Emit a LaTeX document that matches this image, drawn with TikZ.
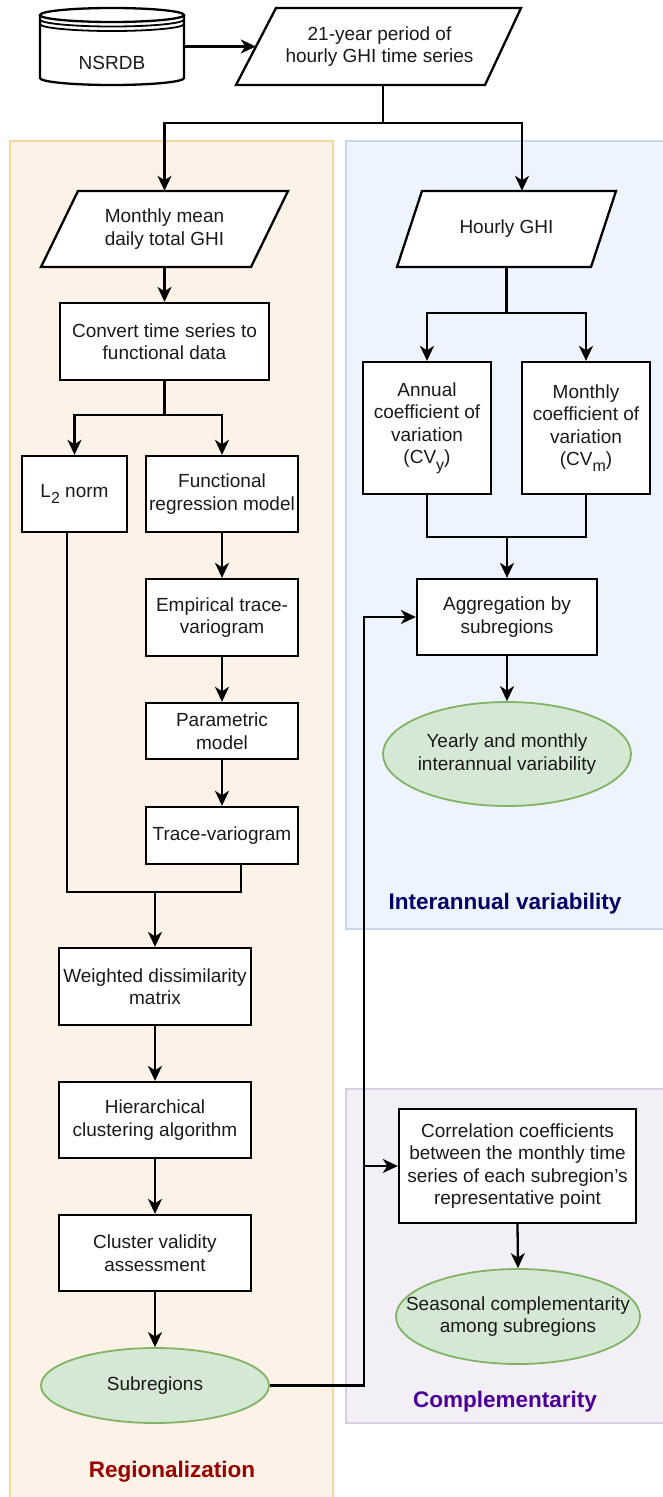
\documentclass[tikz,border=0pt]{standalone}
\usepackage{fontspec}
\setmainfont{Liberation Sans}
\usetikzlibrary{arrows.meta,shapes.geometric,calc}
\definecolor{regfill}{HTML}{FDF2E7}
\definecolor{regline}{HTML}{F3D79C}
\definecolor{ivfill}{HTML}{EEF4FD}
\definecolor{ivline}{HTML}{C8D7EE}
\definecolor{cfill}{HTML}{F3EFF7}
\definecolor{cline}{HTML}{D8CFE5}
\definecolor{termfill}{HTML}{D5E8D4}
\definecolor{termline}{HTML}{82B366}
\definecolor{regtext}{HTML}{990000}
\definecolor{ivtext}{HTML}{000066}
\definecolor{ctext}{HTML}{4C0099}
\definecolor{ink}{HTML}{1A1A1A}
\newcommand{\lowsub}[1]{\raisebox{-0.32em}{\fontsize{16}{16}\selectfont #1}}
\begin{document}
\begin{tikzpicture}[x=1pt,y=-1pt,
  txt/.style={align=center, inner sep=0pt, text=ink, font=\fontsize{19}{22.5}\selectfont},
  box/.style={txt, draw=black, line width=2.3pt, fill=white},
  paratext/.style={txt},
  parashape/.style={draw=black, line width=2.3pt, fill=white, line join=miter},
  term/.style={ellipse, draw=termline, fill=termfill, line width=1.8pt, inner sep=0pt},
  wire/.style={line width=2.3pt, draw=black},
  conn/.style={wire, -{Stealth[length=15pt,width=14pt,inset=4.5pt]}},
  panel/.style={line width=1.8pt},
  lbl/.style={inner sep=0pt, font=\fontsize{22.5}{26}\selectfont\bfseries}
]
\useasboundingbox (0,0) rectangle (662,1497);
\fill[white] (0,0) rectangle (662,1497);

% panels
\draw[panel, draw=regline, fill=regfill] (10,141) rectangle (333,1510);
\draw[panel, draw=ivline, fill=ivfill] (346,141) rectangle (672,929);
\draw[panel, draw=cline, fill=cfill] (346,1089) rectangle (672,1423);

\node[lbl, text=regtext] (lreg) at (172,1472) {Regionalization};
\node[lbl, text=ivtext] (liv) at (505,904) {Interannual variability};
\node[lbl, text=ctext] (lc) at (505,1402) {Complementarity};

% NSRDB data store
\begin{scope}[line width=2.3pt]
\draw[fill=white] (40,15) -- (40,78) arc[start angle=180, end angle=360, x radius=72pt, y radius=7pt] -- (184,15);
\draw[fill=white] (112,15) ellipse[x radius=72pt, y radius=7pt];
\draw[line width=1.8pt] (40,19.5) arc[start angle=180, end angle=360, x radius=72pt, y radius=7pt];
\draw[line width=1.8pt] (40,24) arc[start angle=180, end angle=360, x radius=72pt, y radius=7pt];
\end{scope}
\node[inner sep=0pt, minimum width=144pt, minimum height=77pt] (nsrdb) at (112,46.5) {};
\node[txt, anchor=base] (nsrdbt) at (112,69) {NSRDB};

% parallelogram shapes
\draw[parashape] (236,85) -- (276,8) -- (521,8) -- (485,85) -- cycle;
\draw[parashape] (41,267) -- (78,191) -- (288,191) -- (251,267) -- cycle;
\draw[parashape] (397,267) -- (422,191) -- (616,191) -- (591,267) -- cycle;

\node[paratext, minimum width=247pt, minimum height=77pt] (main) at (379.5,46.5)
      {21-year period of\\hourly GHI time series};

% regionalization column
\node[paratext, minimum width=210pt, minimum height=76pt] (monthly) at (164.5,229)
      {Monthly mean\\daily total GHI};
\node[box, minimum width=209pt, minimum height=77pt] (conv) at (164.5,341.5)
      {Convert time series to\\functional data};
\node[box, minimum width=105pt, minimum height=76pt] (l2) at (74.5,494)
      {L\lowsub{2} norm};
\node[box, minimum width=152pt, minimum height=76pt] (func) at (222,494)
      {Functional\\regression model};
\node[box, minimum width=152pt, minimum height=77pt] (emp) at (222,617.5)
      {Empirical trace-\\variogram};
\node[box, minimum width=152pt, minimum height=56pt] (param) at (222,731)
      {Parametric\\model};
\node[box, minimum width=152pt, minimum height=57pt] (trace) at (222,835.5)
      {Trace-variogram};
\node[box, minimum width=192pt, minimum height=77pt] (weighted) at (155,986.5)
      {Weighted dissimilarity\\matrix};
\node[box, minimum width=192pt, minimum height=76pt] (hier) at (155,1120)
      {Hierarchical\\clustering algorithm};
\node[box, minimum width=192pt, minimum height=76pt] (cluster) at (155,1253)
      {Cluster validity\\assessment};
\node[term, minimum width=228pt, minimum height=75pt] (subr) at (155,1385.5) {};
\node[txt] (subrt) at (subr) {Subregions};

% interannual column
\node[paratext, minimum width=194pt, minimum height=76pt] (hourly) at (506.5,229)
      {Hourly GHI};
\node[box, minimum width=128pt, minimum height=132pt] (annual) at (427,428)
      {Annual\\coefficient of\\variation\\(CV\lowsub{y})};
\node[box, minimum width=128pt, minimum height=132pt] (mcoef) at (586,428)
      {Monthly\\coefficient of\\variation\\(CV\lowsub{m})};
\node[box, minimum width=180pt, minimum height=76pt] (agg) at (507,617)
      {Aggregation by\\subregions};
\node[term, minimum width=248pt, minimum height=104pt] (yearly) at (507,754) {};
\node[txt] (yearlyt) at (yearly) {Yearly and monthly\\interannual variability};

% complementarity column
\node[box, minimum width=237pt, minimum height=114pt] (corr) at (517.5,1166)
      {Correlation coefficients\\between the monthly time\\series of each subregion's\\representative point};
\node[term, minimum width=244pt, minimum height=95pt] (seas) at (518,1316.5) {};
\node[txt] (seast) at (seas) {Seasonal complementarity\\among subregions};

% connectors
\draw[conn] (nsrdb.east) -- (main.west);
\coordinate (s0) at (383,123);
\draw[wire] ([xshift=3.5pt]main.south) -- (s0);
\draw[conn] (s0) -| (monthly.north);
\draw[conn] (s0) -| ([xshift=15.5pt]hourly.north);

\draw[conn] (monthly.south) -- (conv.north);
\coordinate (s1) at (164.5,415);
\draw[wire] (conv.south) -- (s1);
\draw[conn] (s1) -| (l2.north);
\draw[conn] (s1) -| (func.north);
\draw[conn] (func.south) -- (emp.north);
\draw[conn] (emp.south) -- (param.north);
\draw[conn] (param.south) -- (trace.north);
\coordinate (j1) at (155,892);
\draw[wire] ([xshift=-7.5pt]l2.south) |- (j1);
\draw[wire] ([xshift=19pt]trace.south) |- (j1);
\draw[conn] (j1) -- (weighted.north);
\draw[conn] (weighted.south) -- (hier.north);
\draw[conn] (hier.south) -- (cluster.north);
\draw[conn] (cluster.south) -- (subr.north);

\coordinate (s2) at (506.5,313);
\draw[wire] (hourly.south) -- (s2);
\draw[conn] (s2) -| (annual.north);
\draw[conn] (s2) -| (mcoef.north);
\coordinate (j2) at (507,537);
\draw[wire] (annual.south) |- (j2);
\draw[wire] (mcoef.south) |- (j2);
\draw[conn] (j2) -- (agg.north);
\draw[conn] (agg.south) -- (yearly.north);

\coordinate (fb) at (364,1385.5);
\draw[conn] (subr.east) -- (fb) |- (agg.west);
\draw[conn] (fb |- corr.west) -- (corr.west);
\draw[conn] (corr.south) -- (seas.north);
\end{tikzpicture}
\end{document}
